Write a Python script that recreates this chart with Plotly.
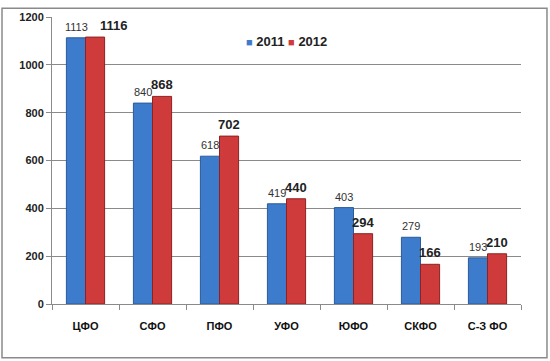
import plotly.graph_objects as go

categories = ["ЦФО", "СФО", "ПФО", "УФО", "ЮФО", "СКФО", "С-З ФО"]
values_2011 = [1113, 840, 618, 419, 403, 279, 193]
values_2012 = [1116, 868, 702, 440, 294, 166, 210]
series_names = ["2011", "2012"]
y_ticks = [0, 200, 400, 600, 800, 1000, 1200]

colors = ["#3d7ccd", "#cf3a3a"]
edge_colors = ["#2b5a99", "#8e2222"]

# label horizontal nudges (px) for 2012 labels, only the first avoids overlap
label_dx_2012 = [19, 0, 0, 0, 0, 0, 0]

fig = go.Figure()
for name, vals, col, ec in zip(series_names, [values_2011, values_2012], colors, edge_colors):
    fig.add_trace(go.Bar(
        x=categories, y=vals, name=name, showlegend=False,
        marker=dict(color=col, line=dict(color=ec, width=1)),
    ))

for c, v in zip(categories, values_2011):
    fig.add_annotation(x=c, y=v, text=str(v), showarrow=False, xshift=-9.5,
                       yanchor="bottom", yshift=3,
                       font=dict(family="Liberation Sans, Arial", size=11, color="#333333"))
for c, v, dx in zip(categories, values_2012, label_dx_2012):
    fig.add_annotation(x=c, y=v, text="<b>%d</b>" % v, showarrow=False, xshift=9.5 + dx,
                       yanchor="bottom", yshift=2,
                       font=dict(family="Liberation Sans, Arial", size=13, color="#222222"))

# legend as text line with coloured squares
legend_text = "".join(
    "<span style='color:%s;font-size:11px'>■</span> <b>%s</b> " % (col, name)
    for name, col in zip(series_names, colors)
).strip()
fig.add_annotation(xref="paper", yref="paper", x=0.41, y=0.915, xanchor="left", yanchor="middle",
                   text=legend_text, showarrow=False,
                   font=dict(family="Liberation Sans, Arial", size=13, color="#222222"))

fig.update_layout(
    width=550, height=361,
    margin=dict(l=52, r=29, t=11, b=57),
    paper_bgcolor="white", plot_bgcolor="white",
    barmode="group", bargap=0.43, bargroupgap=0.0,
    font=dict(family="Liberation Sans, Arial", color="#222222"),
    showlegend=False,
)
fig.update_yaxes(
    range=[0, 1200], tickvals=y_ticks, showgrid=True, gridcolor="#8a8a8a", gridwidth=1,
    showline=True, linecolor="#8a8a8a", ticks="outside", ticklen=5, tickcolor="#8a8a8a",
    tickfont=dict(size=11, color="#222222", weight="bold"), zeroline=False,
)
fig.update_xaxes(
    showline=True, linecolor="#8a8a8a", ticks="outside", tickson="boundaries",
    ticklen=5, tickcolor="#8a8a8a", ticklabelstandoff=12,
    tickfont=dict(size=11, color="#111111", weight="bold"),
)
fig.add_shape(type="rect", xref="paper", yref="paper",
              x0=-0.1066, x1=1.0554, y0=-0.1877, y1=1.0307,
              line=dict(color="#8a8a8a", width=1.5), layer="below")
fig.write_html("out.html", config={"displayModeBar": False},
               post_script="document.body.style.margin='0';")
